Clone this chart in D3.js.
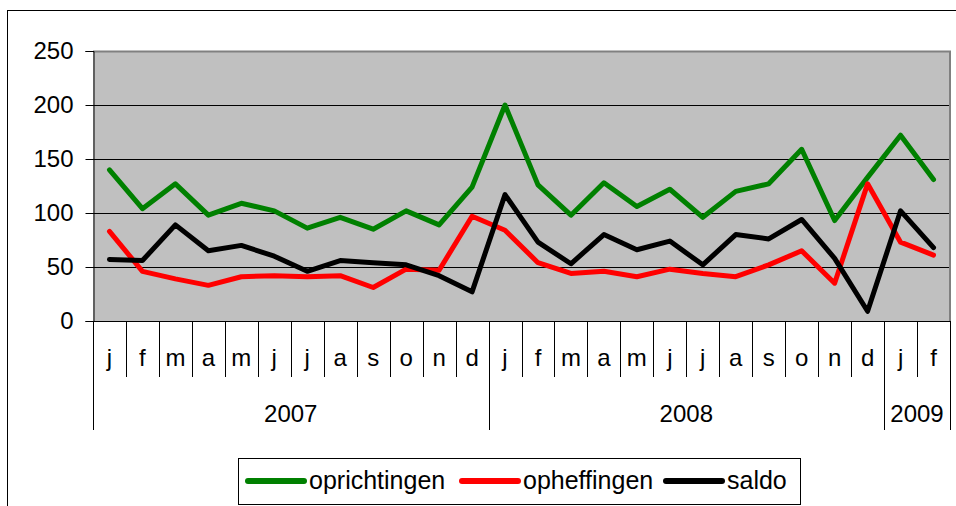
<!DOCTYPE html>
<html>
<head>
<meta charset="utf-8">
<style>
body { margin: 0; background: #fff; }
svg text { font-family: "Liberation Sans", Arial, sans-serif; fill: #000; }
</style>
</head>
<body>
<div id="chart"></div>
<script src="https://cdn.jsdelivr.net/npm/d3@7.8.3/dist/d3.min.js"></script>
<script>
// maandelijkse cijfers jan 2007 - feb 2009
const months = ["j","f","m","a","m","j","j","a","s","o","n","d",
                "j","f","m","a","m","j","j","a","s","o","n","d",
                "j","f"];
const years = ["2007", "2008", "2009"];
const yearLength = [12, 12, 2];

const oprichtingen = [140,104,127,98,109,102,86,96,85,102,89,124,
                      200,126,98,128,106,122,96,120,127,159,93,133,
                      172,131];
const opheffingen = [83,46,39,33,41,42,41,42,31,48,47,97,
                     84,54,44,46,41,48,44,41,52,65,35,127,
                     73,61];
const saldo = [57,56,89,65,70,60,46,56,54,52,42,27,
               117,73,53,80,66,74,52,80,76,94,58,9,
               102,68];

const seriesNames = ["oprichtingen", "opheffingen", "saldo"];
const seriesColors = ["#008000", "#ff0000", "#000000"];
const yTicks = [0, 50, 100, 150, 200, 250];

const width = 956, height = 506;
const plot = {left: 93, right: 950, top: 51, bottom: 321};

const svg = d3.select("#chart").append("svg")
    .attr("width", width)
    .attr("height", height);

// buitenrand van de grafiek
svg.append("rect")
    .attr("x", 7.5).attr("y", 10.5)
    .attr("width", width + 10).attr("height", height + 10)
    .attr("fill", "none")
    .attr("stroke", "#000")
    .attr("stroke-width", 1);

const x = d3.scaleBand()
    .domain(d3.range(months.length))
    .range([plot.left, plot.right]);

const y = d3.scaleLinear()
    .domain([0, 250])
    .range([plot.bottom, plot.top]);

svg.append("rect")
    .attr("x", plot.left).attr("y", plot.top)
    .attr("width", plot.right - plot.left)
    .attr("height", plot.bottom - plot.top)
    .attr("fill", "#c0c0c0");

// rasterlijnen
svg.append("g")
    .selectAll("line")
    .data(yTicks.filter(d => d > 0 && d < 250))
    .join("line")
    .attr("x1", plot.left).attr("x2", plot.right)
    .attr("y1", d => Math.round(y(d)) + 0.5)
    .attr("y2", d => Math.round(y(d)) + 0.5)
    .attr("stroke", "#000")
    .attr("stroke-width", 1);

// grijze rand boven en rechts
svg.append("path")
    .attr("d", `M${plot.left},${plot.top + 0.5}H${plot.right}V${plot.bottom}`)
    .attr("fill", "none")
    .attr("stroke", "#808080")
    .attr("stroke-width", 2);

// y-as
const yAxis = svg.append("g")
    .attr("transform", `translate(${plot.left + 0.5},0)`)
    .call(d3.axisLeft(y).tickValues(yTicks).tickSize(8).tickPadding(12));
yAxis.select(".domain").attr("stroke", "#000");
yAxis.selectAll(".tick line").attr("stroke", "#000");
yAxis.selectAll("text")
    .attr("font-size", 24)
    .attr("font-family", "Liberation Sans, Arial, sans-serif")
    .attr("fill", "#000");

// x-as
svg.append("line")
    .attr("x1", plot.left).attr("x2", plot.right)
    .attr("y1", plot.bottom + 0.5).attr("y2", plot.bottom + 0.5)
    .attr("stroke", "#000");

const bounds = d3.range(months.length + 1).map(i =>
    i < months.length ? x(i) : x(months.length - 1) + x.bandwidth());

const yearStarts = [0];
yearLength.forEach((n, i) => yearStarts.push(yearStarts[i] + n));

svg.append("g")
    .selectAll("line")
    .data(bounds)
    .join("line")
    .attr("x1", d => Math.round(d) + 0.5)
    .attr("x2", d => Math.round(d) + 0.5)
    .attr("y1", plot.bottom)
    .attr("y2", (d, i) => yearStarts.includes(i) ? 430 : 377)
    .attr("stroke", "#000")
    .attr("stroke-width", 1);

svg.append("g")
    .selectAll("text")
    .data(months)
    .join("text")
    .attr("x", (d, i) => x(i) + x.bandwidth() / 2)
    .attr("y", 366)
    .attr("text-anchor", "middle")
    .attr("font-size", 24)
    .text(d => d);

svg.append("g")
    .selectAll("text")
    .data(years)
    .join("text")
    .attr("x", (d, i) => (bounds[yearStarts[i]] + bounds[yearStarts[i + 1]]) / 2)
    .attr("y", 422)
    .attr("text-anchor", "middle")
    .attr("font-size", 24)
    .text(d => d);

// lijnen
const line = d3.line()
    .x((d, i) => x(i) + x.bandwidth() / 2)
    .y(d => y(d));

const allSeries = [oprichtingen, opheffingen, saldo];

svg.append("g")
    .selectAll("path")
    .data(allSeries)
    .join("path")
    .attr("d", line)
    .attr("fill", "none")
    .attr("stroke", (d, i) => seriesColors[i])
    .attr("stroke-width", 5)
    .attr("stroke-linejoin", "round")
    .attr("stroke-linecap", "round");

// legenda
const legend = svg.append("g");
legend.append("rect")
    .attr("x", 238.5).attr("y", 458.5)
    .attr("width", 562).attr("height", 46)
    .attr("fill", "#fff")
    .attr("stroke", "#000")
    .attr("stroke-width", 1);

const legendX = [246, 460, 664];
seriesNames.forEach((name, i) => {
    legend.append("line")
        .attr("x1", legendX[i] + 2).attr("x2", legendX[i] + 58)
        .attr("y1", 481).attr("y2", 481)
        .attr("stroke", seriesColors[i])
        .attr("stroke-width", 6)
        .attr("stroke-linecap", "round");
    legend.append("text")
        .attr("x", legendX[i] + 63)
        .attr("y", 489)
        .attr("font-size", 25)
        .text(name);
});
</script>
</body>
</html>
